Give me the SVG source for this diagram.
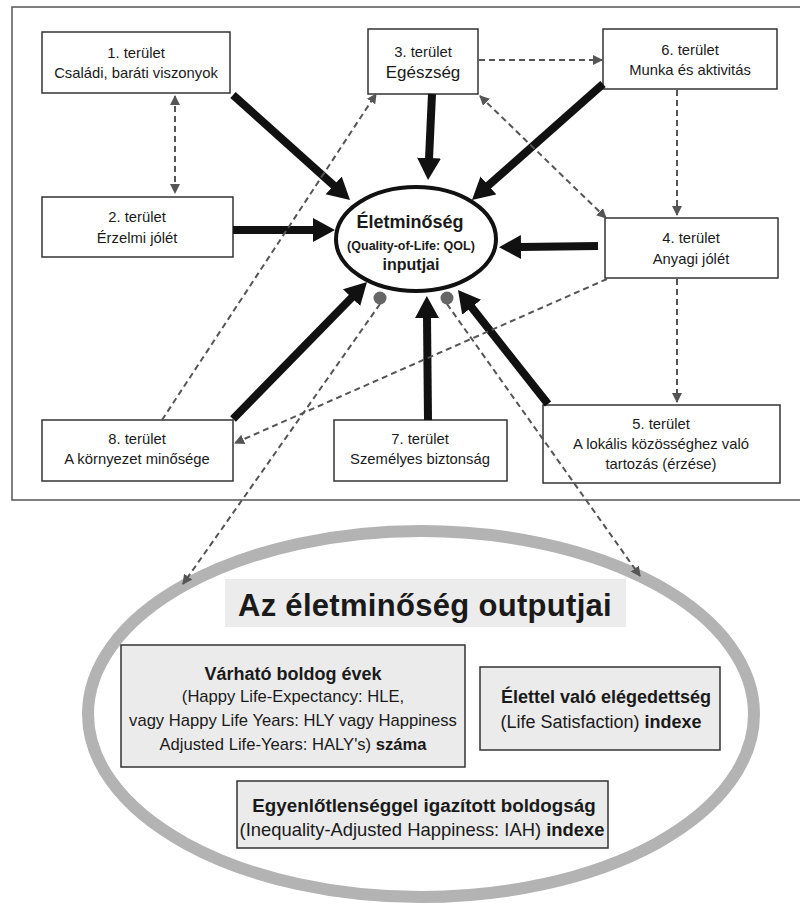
<svg xmlns="http://www.w3.org/2000/svg" width="800" height="906" viewBox="0 0 800 906">
<style>
text{font-family:"Liberation Sans",Arial,sans-serif;fill:#1a1a1a;text-anchor:middle}
.box{fill:#fff;stroke:#333;stroke-width:1.5}
.lbl{font-size:14.8px}
.thick{stroke:#111;stroke-width:8;fill:none;marker-end:url(#big)}
.dash{stroke:#555;stroke-width:2;stroke-dasharray:6 4;fill:none}
.out{fill:#ebebeb;stroke:#333;stroke-width:1.5}
.b{font-weight:bold}
</style>
<defs>
<marker id="big" markerUnits="userSpaceOnUse" markerWidth="26" markerHeight="26" refX="1" refY="12" orient="auto"><path d="M0,0 L22,12 L0,24 z" fill="#111"/></marker>
<marker id="sm" markerUnits="userSpaceOnUse" markerWidth="12" markerHeight="12" refX="9" refY="5" orient="auto-start-reverse"><path d="M0,0 L10,5 L0,10 z" fill="#555"/></marker>
</defs>
<rect x="12" y="7" width="800" height="493" fill="none" stroke="#555" stroke-width="1.5"/>

<g id="node1"><rect class="box" x="42" y="32" width="188" height="61"/><text class="lbl" x="136" y="58">1. terület</text><text class="lbl" x="136" y="78">Családi, baráti viszonyok</text></g>
<g id="node2"><rect class="box" x="42" y="197" width="191" height="60"/><text class="lbl" x="137" y="222">2. terület</text><text class="lbl" x="137" y="243">Érzelmi jólét</text></g>
<g id="node3"><rect class="box" x="368" y="29" width="110" height="65"/><text class="lbl" x="423" y="57">3. terület</text><text x="423" y="78" style="font-size:17px">Egészség</text></g>
<g id="node6"><rect class="box" x="603" y="29" width="174" height="60"/><text class="lbl" x="690" y="55">6. terület</text><text class="lbl" x="690" y="75">Munka és aktivitás</text></g>
<g id="node4"><rect class="box" x="605" y="218" width="173" height="60"/><text class="lbl" x="691" y="243">4. terület</text><text class="lbl" x="691" y="264">Anyagi jólét</text></g>
<g id="node5"><rect class="box" x="543" y="405" width="237" height="78"/><text class="lbl" x="661" y="429">5. terület</text><text class="lbl" x="661" y="449">A lokális közösséghez való</text><text class="lbl" x="661" y="469">tartozás (érzése)</text></g>
<g id="node7"><rect class="box" x="334" y="420" width="173" height="61"/><text class="lbl" x="420" y="444">7. terület</text><text class="lbl" x="420" y="464">Személyes biztonság</text></g>
<g id="node8"><rect class="box" x="42" y="420" width="191" height="61"/><text class="lbl" x="137" y="444">8. terület</text><text class="lbl" x="137" y="464">A környezet minősége</text></g>

<g id="qol"><ellipse cx="416" cy="239" rx="80" ry="52" fill="#fff" stroke="#111" stroke-width="4"/>
<text class="b" x="410" y="228" style="font-size:18px">Életminőség</text>
<text class="b" x="411" y="250" style="font-size:12.5px">(Quality-of-Life: QOL)</text>
<text class="b" x="411" y="270" style="font-size:16px">inputjai</text>
<circle cx="380" cy="298" r="6.5" fill="#666"/><circle cx="447" cy="298" r="6.5" fill="#666"/></g>

<g id="outputs">
<ellipse cx="421" cy="714" rx="333" ry="183" fill="none" stroke="#b3b3b3" stroke-width="12"/>
<rect x="225" y="579" width="401" height="48" fill="#ececec"/>
<text class="b" x="425" y="616" style="font-size:31px;letter-spacing:0.3px">Az életminőség outputjai</text>
<g id="hle"><rect class="out" x="121" y="645" width="344" height="122"/>
<text class="b" x="293" y="680" style="font-size:18px">Várható boldog évek</text>
<text x="293" y="702" style="font-size:16.6px">(Happy Life-Expectancy: HLE,</text>
<text x="293" y="726" style="font-size:16.6px">vagy Happy Life Years: HLY vagy Happiness</text>
<text x="293" y="750" style="font-size:16.6px">Adjusted Life-Years: HALY's) <tspan class="b">száma</tspan></text></g>
<g id="ls"><rect class="out" x="480" y="667" width="240" height="83"/>
<text class="b" x="606" y="703" style="font-size:18px">Élettel való elégedettség</text>
<text x="601" y="728" style="font-size:18px">(Life Satisfaction) <tspan class="b">indexe</tspan></text></g>
<g id="iah"><rect class="out" x="237" y="781" width="371" height="67"/>
<text class="b" x="424" y="812" style="font-size:18.8px">Egyenlőtlenséggel igazított boldogság</text>
<text x="422" y="836" style="font-size:18.4px">(Inequality-Adjusted Happiness: IAH) <tspan class="b">indexe</tspan></text></g>
</g>

<g id="connectors">
<line class="thick" x1="233" y1="95" x2="334.4" y2="186"/>
<line class="thick" x1="233" y1="230" x2="314" y2="230"/>
<line class="thick" x1="432" y1="94" x2="429" y2="159"/>
<line class="thick" x1="603" y1="84" x2="487.7" y2="186.1"/>
<line class="thick" x1="598" y1="246" x2="520" y2="247"/>
<line class="thick" x1="548" y1="404" x2="471" y2="306.5"/>
<line class="thick" x1="428" y1="420" x2="427" y2="317"/>
<line class="thick" x1="233" y1="419" x2="352.3" y2="297"/>

<line class="dash" x1="175" y1="96" x2="175" y2="193" marker-start="url(#sm)" marker-end="url(#sm)"/>
<line class="dash" x1="479" y1="60" x2="602" y2="60" marker-end="url(#sm)"/>
<line class="dash" x1="677" y1="90" x2="677" y2="215" marker-end="url(#sm)"/>
<line class="dash" x1="677" y1="279" x2="677" y2="402" marker-end="url(#sm)"/>
<line class="dash" x1="480" y1="96" x2="606" y2="218" marker-start="url(#sm)" marker-end="url(#sm)"/>
<line class="dash" x1="162" y1="420" x2="376" y2="94" marker-end="url(#sm)"/>
<line class="dash" x1="607" y1="279" x2="235" y2="443" marker-end="url(#sm)"/>
<line class="dash" x1="380" y1="304" x2="183" y2="584" marker-end="url(#sm)"/>
<line class="dash" x1="447" y1="304" x2="640" y2="576" marker-end="url(#sm)"/>
</g>
</svg>
